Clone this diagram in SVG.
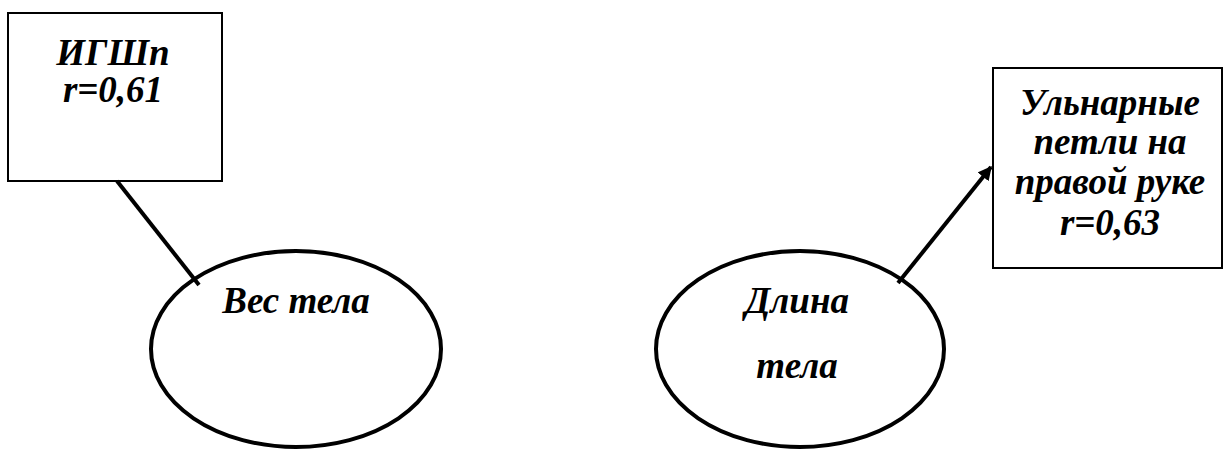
<svg xmlns="http://www.w3.org/2000/svg" width="1224" height="450" viewBox="0 0 1224 450">
  <style>
    .box { fill: #ffffff; stroke: #000000; stroke-width: 2; }
    .oval { fill: #ffffff; stroke: #000000; stroke-width: 4; }
    .label { font-family: "Liberation Serif", "DejaVu Serif", serif; font-weight: bold; font-style: italic; font-size: 37px; fill: #000000; text-anchor: middle; }
    .link { stroke: #000000; stroke-width: 4; fill: none; }
  </style>
  <defs>
    <marker id="arrow" viewBox="0 0 10 10" refX="9" refY="5" markerWidth="3.5" markerHeight="3.5" orient="auto" markerUnits="strokeWidth">
      <path d="M0,0 L10,5 L0,10 Z" fill="#000000"/>
    </marker>
  </defs>
  <rect width="1224" height="450" fill="#ffffff"/>

  <g id="node-igshp">
    <rect class="box" x="8" y="13" width="214" height="168"/>
    <text class="label" x="113" y="65">ИГШп</text>
    <text class="label" x="113" y="102">r=0,61</text>
  </g>

  <g id="node-weight">
    <ellipse class="oval" cx="296" cy="349" rx="145" ry="98"/>
    <text class="label" x="296" y="313">Вес тела</text>
  </g>

  <g id="node-length">
    <ellipse class="oval" cx="800" cy="349" rx="144" ry="98"/>
    <text class="label" x="797" y="313">Длина</text>
    <text class="label" x="797" y="378">тела</text>
  </g>

  <g id="node-ulnar">
    <rect class="box" x="993" y="68" width="229" height="200"/>
    <text class="label" x="1110" y="115">Ульнарные</text>
    <text class="label" x="1110" y="154">петли на</text>
    <text class="label" x="1110" y="194">правой руке</text>
    <text class="label" x="1110" y="235">r=0,63</text>
  </g>

  <g id="connectors">
    <line class="link" x1="117" y1="181" x2="199" y2="285"/>
    <line class="link" x1="898" y1="283" x2="991" y2="167" marker-end="url(#arrow)"/>
  </g>
</svg>
